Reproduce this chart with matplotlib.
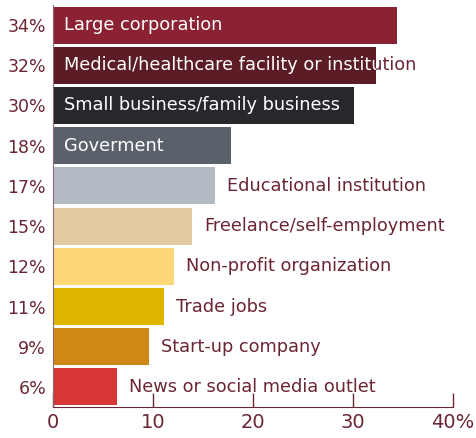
import matplotlib.pyplot as plt
from matplotlib.transforms import Bbox, TransformedBbox

categories = ["Large corporation", "Medical/healthcare facility or institution",
              "Small business/family business", "Goverment", "Educational institution",
              "Freelance/self-employment", "Non-profit organization", "Trade jobs",
              "Start-up company", "News or social media outlet"]
values = [34.4, 32.3, 30.1, 17.8, 16.2, 13.9, 12.1, 11.1, 9.6, 6.4]
pct_labels = ["34%", "32%", "30%", "18%", "17%", "15%", "12%", "11%", "9%", "6%"]
colors = ["#8b2233", "#5c1c26", "#27282c", "#5a616b", "#b3bac4",
          "#e2cba0", "#fcd879", "#e0b500", "#d08814", "#d83535"]
inside = [True, True, True, True, False, False, False, False, False, False]

maroon = "#6b2634"
plt.rcParams['font.family'] = ['DejaVu Sans']
fs = 12.8

fig = plt.figure(figsize=(4.76, 4.38), dpi=100)
ax = fig.add_axes([53 / 476, 1 - 407 / 438, 400 / 476, 402 / 438])

y = list(range(len(values)))
bars = ax.barh(y, values, height=0.92, color=colors)
ax.set_ylim(len(values) - 0.5, -0.5)
ax.set_xlim(0, 40)

for i, name in enumerate(categories):
    if inside[i]:
        # white where the text is on the bar, maroon where it runs past the end
        t1 = ax.text(1.1, i, name, color="white", va="center", ha="left", fontsize=fs)
        t1.set_clip_on(True)
        t1.set_clip_box(TransformedBbox(Bbox([[0, i - 0.5], [values[i], i + 0.5]]), ax.transData))
        t2 = ax.text(1.1, i, name, color=maroon, va="center", ha="left", fontsize=fs)
        t2.set_clip_on(True)
        t2.set_clip_box(TransformedBbox(Bbox([[values[i], i - 0.5], [45, i + 0.5]]), ax.transData))
    else:
        ax.text(values[i] + 1.2, i, name, color=maroon, va="center", ha="left", fontsize=fs)

ax.set_yticks(y)
ax.set_yticklabels(pct_labels, fontsize=12.5, color=maroon)
ax.tick_params(axis='y', length=0, pad=5)
ax.set_xticks([0, 10, 20, 30, 40])
ax.set_xticklabels(["0", "10", "20", "30", "40%"], fontsize=14, color=maroon)
ax.tick_params(axis='x', direction='in', length=10, width=1, color=maroon, pad=4)

for s in ["top", "right"]:
    ax.spines[s].set_visible(False)
ax.spines["bottom"].set_color(maroon)
ax.spines["left"].set_color("#8a6a70")
ax.spines["left"].set_linewidth(0.8)

fig.savefig("out.png", dpi=100)
